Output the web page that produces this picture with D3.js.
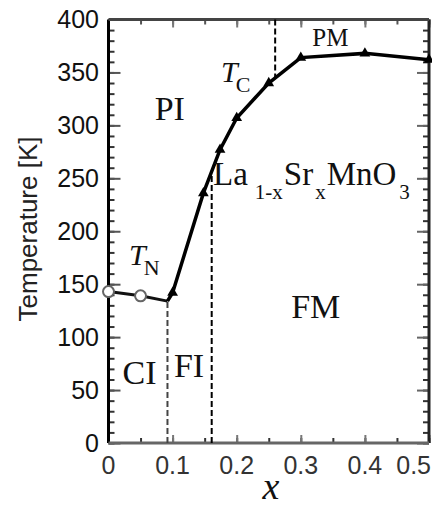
<!DOCTYPE html>
<html><head><meta charset="utf-8">
<script src="https://cdn.jsdelivr.net/npm/d3@7"></script>
<style>html,body{margin:0;padding:0;background:#fff;overflow:hidden}</style>
</head><body>
<svg id="c" width="432" height="508"></svg>
<script>
// ---- data ----
const tnX = [0, 0.05, 0.092];
const tnT = [143, 139, 134];
const tnMarked = [true, true, false];
const tcX = [0.092, 0.1, 0.148, 0.174, 0.2, 0.25, 0.3, 0.4, 0.5];
const tcT = [134, 142, 236, 277, 307, 340, 364, 368, 362];
const tcMarked = [false, true, true, true, true, true, true, true, true];
const boundaryX = [0.092, 0.161, 0.26];   // dashed phase boundaries
const boundaryFromTop = [false, false, true];
const yTickValues = [0, 50, 100, 150, 200, 250, 300, 350, 400];
const xTickValues = [0, 0.1, 0.2, 0.3, 0.4, 0.5];
const xTickLabels = ["0", "0.1", "0.2", "0.3", "0.4", "0.5"];
const phaseLabels = ["PI", "FM", "CI", "FI", "PM"];
const phaseX = [0.072, 0.285, 0.022, 0.102, 0.318];
const phaseT = [305, 118, 56, 62, 375];

const svg = d3.select("#c");
const x = d3.scaleLinear().domain([0, 0.5]).range([108.5, 429]);
const y = d3.scaleLinear().domain([0, 400]).range([443, 19.5]);

function curveAt(xs, ts, v) {
  for (let i = 0; i < xs.length - 1; i++) {
    if (v >= xs[i] && v <= xs[i + 1]) {
      const f = (v - xs[i]) / (xs[i + 1] - xs[i]);
      return ts[i] + f * (ts[i + 1] - ts[i]);
    }
  }
  return ts[ts.length - 1];
}

// ---- axes (ticks inward) ----
const minorY = d3.range(0, 401, 10);
const minorX = d3.range(0, 0.501, 0.05);

function styleAxis(g, col) {
  g.select(".domain").remove();
  g.selectAll(".tick line").attr("stroke", col).attr("stroke-width", 2);
}
svg.append("g").attr("transform", `translate(${x(0)},0)`)
  .call(d3.axisRight(y).tickValues(minorY).tickSize(6).tickFormat(""))
  .call(g => styleAxis(g, "#333"));
svg.append("g").attr("transform", `translate(${x(0)},0)`)
  .call(d3.axisRight(y).tickValues(yTickValues).tickSize(12).tickFormat(""))
  .call(g => styleAxis(g, "#555"));
svg.append("g").attr("transform", `translate(${x(0.5)},0)`)
  .call(d3.axisLeft(y).tickValues(minorY).tickSize(6).tickFormat(""))
  .call(g => styleAxis(g, "#333"));
svg.append("g").attr("transform", `translate(${x(0.5)},0)`)
  .call(d3.axisLeft(y).tickValues(yTickValues).tickSize(12).tickFormat(""))
  .call(g => styleAxis(g, "#666"));
svg.append("g").attr("transform", `translate(0,${y(0)})`)
  .call(d3.axisTop(x).tickValues(minorX).tickSize(5).tickFormat(""))
  .call(g => styleAxis(g, "#333"));
svg.append("g").attr("transform", `translate(0,${y(0)})`)
  .call(d3.axisTop(x).tickValues(xTickValues).tickSize(8).tickFormat(""))
  .call(g => styleAxis(g, "#777"));
svg.append("g").attr("transform", `translate(0,${y(400)})`)
  .call(d3.axisBottom(x).tickValues(minorX).tickSize(5).tickFormat(""))
  .call(g => styleAxis(g, "#555"));
svg.append("g").attr("transform", `translate(0,${y(400)})`)
  .call(d3.axisBottom(x).tickValues(xTickValues).tickSize(8).tickFormat(""))
  .call(g => styleAxis(g, "#777"));

// frame lines
svg.append("line").attr("x1", x(0)).attr("x2", x(0)).attr("y1", y(400)).attr("y2", y(0))
  .attr("stroke", "#000").attr("stroke-width", 3);
svg.append("line").attr("x1", x(0.5)).attr("x2", x(0.5)).attr("y1", y(400)).attr("y2", y(0))
  .attr("stroke", "#222").attr("stroke-width", 3);
svg.append("line").attr("x1", x(0)).attr("x2", x(0.5)).attr("y1", y(0)).attr("y2", y(0))
  .attr("stroke", "#666").attr("stroke-width", 3);
svg.append("line").attr("x1", x(0)).attr("x2", x(0.5)).attr("y1", y(400)).attr("y2", y(400))
  .attr("stroke", "#444").attr("stroke-width", 3);

// tick labels
const sans = "'Liberation Sans', Arial, sans-serif";
const serif = "'Liberation Serif', 'Times New Roman', serif";
svg.append("g").selectAll("text").data(yTickValues).join("text")
  .attr("x", 99).attr("y", d => y(d)).attr("dy", "0.35em")
  .attr("text-anchor", "end").attr("font-family", sans).attr("font-size", 25)
  .attr("fill", "#111").text(d => d);
svg.append("g").selectAll("text").data(xTickValues).join("text")
  .attr("x", (d, i) => i === xTickValues.length - 1 ? 431 : x(d)).attr("y", 474)
  .attr("text-anchor", (d, i) => i === xTickValues.length - 1 ? "end" : "middle")
  .attr("font-family", sans).attr("font-size", 25)
  .attr("fill", "#333").text((d, i) => xTickLabels[i]);

// axis titles
svg.append("text").attr("transform", "translate(37,229) rotate(-90)")
  .attr("text-anchor", "middle").attr("font-family", sans).attr("font-size", 26)
  .attr("fill", "#222").text("Temperature [K]");
svg.append("text").attr("x", 271).attr("y", 499).attr("text-anchor", "middle")
  .attr("font-family", serif).attr("font-style", "italic").attr("font-size", 38)
  .attr("fill", "#111").text("x");

// dashed boundaries
const dashG = svg.append("g");
boundaryX.forEach((bx, i) => {
  const tc = bx <= 0.092 ? curveAt(tnX, tnT, bx) : curveAt(tcX, tcT, bx);
  dashG.append("line")
    .attr("x1", x(bx)).attr("x2", x(bx))
    .attr("y1", boundaryFromTop[i] ? y(400) : y(0))
    .attr("y2", y(tc))
    .attr("stroke", i === 0 ? "#444" : "#000").attr("stroke-width", 2)
    .attr("stroke-dasharray", "6,3");
});

// curves
const line = d3.line().x(d => x(d[0])).y(d => y(d[1]));
svg.append("path").datum(tnX.map((v, i) => [v, tnT[i]])).attr("d", line)
  .attr("fill", "none").attr("stroke", "#111").attr("stroke-width", 3);
svg.append("path").datum(tcX.map((v, i) => [v, tcT[i]])).attr("d", line)
  .attr("fill", "none").attr("stroke", "#000").attr("stroke-width", 3.5);

// markers
svg.append("g").selectAll("path").data(tcX.map((v, i) => [v, tcT[i], tcMarked[i]]).filter(d => d[2]))
  .join("path")
  .attr("transform", d => `translate(${x(d[0])},${y(d[1])})`)
  .attr("d", d3.symbol(d3.symbolTriangle, 50)())
  .attr("fill", "#000");
svg.append("g").selectAll("circle").data(tnX.map((v, i) => [v, tnT[i], tnMarked[i]]).filter(d => d[2]))
  .join("circle")
  .attr("cx", d => x(d[0])).attr("cy", d => y(d[1])).attr("r", 5.5)
  .attr("fill", "#fff").attr("stroke", "#666").attr("stroke-width", 2);

// phase labels
svg.append("g").selectAll("text").data(phaseLabels).join("text")
  .attr("x", (d, i) => x(phaseX[i])).attr("y", (d, i) => y(phaseT[i]))
  .attr("font-family", serif).attr("font-size", (d, i) => d === "PM" ? 25 : 34)
  .attr("fill", "#111").text(d => d);

// T_C and T_N
function tLabel(px, py, sub) {
  const t = svg.append("text").attr("x", px).attr("y", py)
    .attr("font-family", serif).attr("fill", "#111");
  t.append("tspan").attr("font-style", "italic").attr("font-size", 30).text("T");
  t.append("tspan").attr("font-size", 22).attr("dy", 10).attr("dx", -2).text(sub);
}
tLabel(221, 82, "C");
tLabel(129, 265, "N");

// compound label
const comp = svg.append("text").attr("x", 213).attr("y", 185)
  .attr("font-family", serif).attr("font-size", 33).attr("fill", "#111");
comp.append("tspan").text("La");
comp.append("tspan").attr("font-size", 21).attr("dy", 14).attr("dx", 7).text("1-x");
comp.append("tspan").attr("dy", -14).attr("dx", 1).text("Sr");
comp.append("tspan").attr("font-size", 21).attr("dy", 14).attr("dx", 2).text("x");
comp.append("tspan").attr("dy", -14).attr("dx", 1).text("MnO");
comp.append("tspan").attr("font-size", 21).attr("dy", 14).attr("dx", 3).text("3");
</script>
</body></html>
